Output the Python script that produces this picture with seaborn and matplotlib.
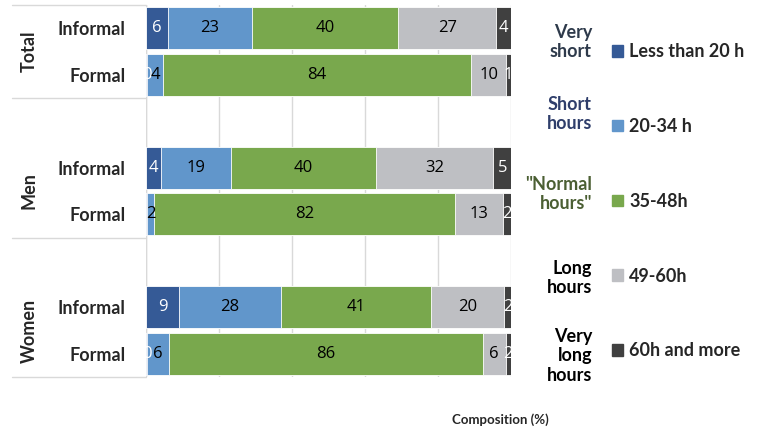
import numpy as np
import pandas as pd
import matplotlib.pyplot as plt
import seaborn as sns

# Data (composition of hours worked, %)
rows = ['Total Informal', 'Total Formal', 'Men Informal', 'Men Formal',
        'Women Informal', 'Women Formal']
row_pos = [0, 1, 3, 4, 6, 7]
row_labels = ['Informal', 'Formal', 'Informal', 'Formal', 'Informal', 'Formal']
groups = ['Total', 'Men', 'Women']
bands = ['Less than 20 h', '20-34 h', '35-48h', '49-60h', '60h and more']
band_names = ['Very\nshort', 'Short\nhours', '"Normal\nhours"', 'Long\nhours',
              'Very\nlong\nhours']

lt20 = [6, 0.4, 4, 0.3, 9, 0.3]
h20_34 = [23, 4.3, 19.4, 2, 28, 6]
h35_48 = [40, 84.3, 39.6, 82.4, 41, 86]
h49_60 = [27, 9.7, 32.2, 13, 20, 6.2]
h60plus = [4, 1.3, 4.8, 2.3, 2.2, 1.5]

colors = ['#355A96', '#6196CB', '#79A84D', '#BEBFC3', '#404040']
label_colors = ['white', 'black', 'black', 'black', 'white']
name_colors = ['#2E3A4B', '#2F3E6B', '#4B5F33', 'black', 'black']

df = pd.DataFrame({'pos': row_pos, 'label': row_labels})
series = [lt20, h20_34, h35_48, h49_60, h60plus]
for b, s in zip(bands, series):
    df[b] = s
cum = df[bands].cumsum(axis=1)

sns.set_theme(style='white')
plt.rcParams['font.family'] = ['Lato', 'DejaVu Sans']

fig = plt.figure(figsize=(7.62, 4.34), dpi=100)
ax = fig.add_axes([146 / 762, 1 - 377 / 434, 365 / 762, 372 / 434])

# stacked bars: draw cumulative totals from the last band back to the first
for i in range(len(bands) - 1, -1, -1):
    sns.barplot(x=cum[bands[i]], y=df['pos'], orient='h', native_scale=True,
                color=colors[i], width=0.9, saturation=1, ax=ax,
                edgecolor='white', linewidth=0.6)

# segment labels (the tiny "less than 20 h" shares are only partly visible)
for i, b in enumerate(bands):
    for k, r in df.iterrows():
        if i == 0 and r[b] < 1 and r['pos'] == 4:
            continue
        left = cum.loc[k, b] - r[b]
        ax.text(left + r[b] / 2, r['pos'], f'{round(r[b]):d}', ha='center',
                va='center', fontsize=12, color=label_colors[i],
                family=['Open Sans', 'DejaVu Sans'], clip_on=True)

ax.set_xlim(0, 100)
ax.set_ylim(7.5, -0.5)
ax.set_xticks(np.arange(0, 101, 20))
ax.set_xticklabels([])
ax.grid(axis='x', color='#D9D9D9', linewidth=1)
ax.set_axisbelow(True)
for sp in ax.spines.values():
    sp.set_visible(False)
ax.axvline(0, color='#D9D9D9', linewidth=1, zorder=0)
ax.set_yticks(row_pos)
ax.set_yticklabels(row_labels, fontsize=13, fontweight='bold')
ax.tick_params(axis='y', length=0, pad=15)
ax.set_xlabel('')
ax.set_ylabel('')

# group separators and group titles
for y in [-0.5, 1.5, 4.5, 7.5]:
    yf = ax.transData.transform((0, y))[1] / fig.bbox.height
    fig.add_artist(plt.Line2D([12 / 762, 146 / 762], [yf, yf],
                              color='#D9D9D9', linewidth=1))
for g, (a, b) in zip(groups, [(0, 1), (3, 4), (6, 7)]):
    yf = ax.transData.transform((0, (a + b) / 2))[1] / fig.bbox.height
    fig.text(29 / 762, yf, g, rotation=90, ha='center', va='center',
             fontsize=13, fontweight='bold')

fig.text(500 / 762, 1 - 420 / 434, 'Composition (%)', ha='center', va='center',
         fontsize=9.5, fontweight='bold')

# legend with band names
handles = [plt.Rectangle((0, 0), 1, 1, color=c) for c in colors]
fig.legend(handles, bands, loc='upper left',
           bbox_to_anchor=(596 / 762, 1 - 27 / 434), frameon=False,
           handlelength=0.6, handleheight=0.6, handletextpad=0.35,
           labelspacing=3.2, prop={'weight': 'bold', 'size': 13})
name_y = [42, 114, 194, 278, 356]
for n, y, c in zip(band_names, name_y, name_colors):
    fig.text(592 / 762, 1 - y / 434, n, ha='right', va='center', fontsize=13,
             fontweight='bold', color=c, linespacing=1.2)

fig.savefig('out.png', dpi=100)
